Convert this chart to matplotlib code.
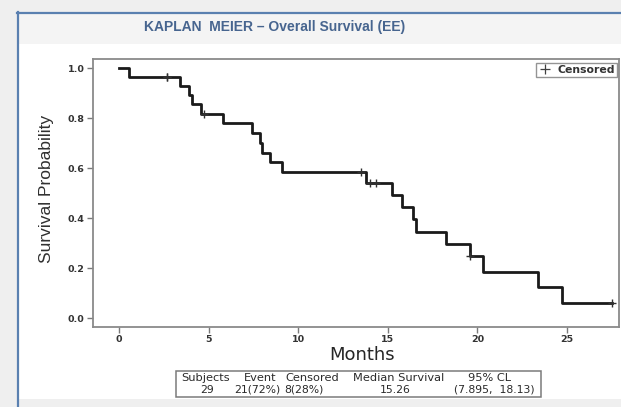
import matplotlib
matplotlib.use("Agg")
import matplotlib.pyplot as plt
from matplotlib.patches import Rectangle
from matplotlib.lines import Line2D

# Kaplan-Meier step curve (months, survival probability)
event_months = [0.0, 0.56, 3.4, 3.9, 4.1, 4.6, 5.8, 7.42, 7.87, 8.0, 8.42, 9.1,
                13.8, 15.26, 15.8, 16.4, 16.6, 18.25, 19.6, 20.3, 23.4, 24.7]
survival = [1.0, 0.9655, 0.9284, 0.8912, 0.8541, 0.8170, 0.7781, 0.7392, 0.7003,
            0.6614, 0.6225, 0.5836, 0.5419, 0.4926, 0.4434, 0.3941, 0.3448,
            0.2956, 0.2463, 0.1847, 0.1232, 0.0616]
last_followup = 27.5

# censored observations (months)
censor_months = [2.7, 2.7, 4.75, 13.5, 14.0, 14.35, 19.6, 27.5]

x_ticks = [0, 5, 10, 15, 20, 25]
y_ticks = [0.0, 0.2, 0.4, 0.6, 0.8, 1.0]

summary_headers = ["Subjects", "Event", "Censored", "Median Survival", "95% CL"]
summary_values = ["29", "21(72%)", "8(28%)", "15.26", "(7.895,  18.13)"]

title_text = "KAPLAN  MEIER \u2013 Overall Survival (EE)"

W, H = 621, 407
DPI = 100
plt.rcParams["font.family"] = ["Liberation Sans", "DejaVu Sans"]
WIDE = ["DejaVu Sans"]

fig = plt.figure(figsize=(W / DPI, H / DPI), dpi=DPI, facecolor="#efefef")


def fx(px):
    return px / W


def fy(py):
    return 1 - py / H


def prect(x0, y0, x1, y1, z=-5, **kw):
    fig.patches.append(Rectangle((fx(x0), fy(y1)), fx(x1) - fx(x0), fy(y0) - fy(y1),
                                 transform=fig.transFigure, figure=fig, zorder=z, **kw))


# panel: white body, pale title band, blue frame on left/top
prect(17, 12, 625, 399, facecolor="white", edgecolor="none")
prect(17, 12, 625, 44, facecolor="#f4f4f4", edgecolor="none")
fig.add_artist(Line2D([fx(17.5), fx(17.5)], [fy(12), fy(407)], color="#5a80b0", lw=1.6,
                      transform=fig.transFigure))
fig.add_artist(Line2D([fx(17), fx(625)], [fy(12.5), fy(12.5)], color="#5a80b0", lw=1.6,
                      transform=fig.transFigure))

fig.text(fx(275), fy(27), title_text, color="#47658f", fontsize=10, fontweight="bold",
         ha="center", va="center")

ax_l, ax_r, ax_t, ax_b = 93, 619, 59, 327
ax = fig.add_axes([fx(ax_l), fy(ax_b), fx(ax_r) - fx(ax_l), fy(ax_t) - fy(ax_b)])
ax.set_zorder(1)
ax.set_facecolor("white")

ax.step(event_months + [last_followup], survival + [survival[-1]], where="post",
        color="#1a1a1a", lw=2.0, zorder=3)


def surv_at(t):
    s = survival[0]
    for tm, v in zip(event_months, survival):
        if tm <= t:
            s = v
    return s


ax.plot(censor_months, [surv_at(t) for t in censor_months], linestyle="none",
        marker="+", markersize=6, markeredgewidth=1.0, color="#303030", zorder=4)

ax.set_xlim(-1.45, 27.9)
ax.set_ylim(-0.036, 1.036)
ax.set_xticks(x_ticks)
ax.set_yticks(y_ticks)
ax.set_xticklabels([str(v) for v in x_ticks])
ax.set_yticklabels([f"{v:.1f}" for v in y_ticks])
for s in ax.spines.values():
    s.set_color("#8a8a8a")
    s.set_linewidth(1.3)
ax.tick_params(direction="out", length=4, width=1.0, color="#7a7a7a",
               labelsize=6.8, labelcolor="#333333", pad=2)
for lab in ax.get_xticklabels() + ax.get_yticklabels():
    lab.set_fontweight("bold")
    lab.set_family(WIDE)

leg = ax.legend(handles=[Line2D([], [], linestyle="none", marker="+", markersize=7,
                                markeredgewidth=0.9, color="#404040", label="Censored")],
                loc="upper right", bbox_to_anchor=(0.996, 0.985),
                prop={"family": WIDE, "size": 7.8, "weight": "bold"},
                frameon=True, fancybox=False, edgecolor="#7a7a7a", borderpad=0.2,
                handlelength=1.3, handletextpad=0.5, borderaxespad=0.0)
leg.get_frame().set_linewidth(1.0)
for t in leg.get_texts():
    t.set_color("#333333")

fig.text(fx(362), fy(355), "Months", fontsize=13, color="#262626", ha="center",
         va="center", family=WIDE)
fig.text(fx(47), fy(189), "Survival Probability", fontsize=12.5, color="#303030",
         rotation=90, ha="center", va="center")

# summary box under the plot
prect(176, 371, 541, 397, z=2, facecolor="white", edgecolor="#7a7a7a", lw=1.1)
header_x = [206, 260, 312, 399, 489]
value_x = [207, 257, 304, 395, 494]
for txt, px in zip(summary_headers, header_x):
    fig.text(fx(px), fy(378), txt, fontsize=8.2, color="#2a2a2a", ha="center",
             va="center", family=WIDE, zorder=3)
for txt, px in zip(summary_values, value_x):
    fig.text(fx(px), fy(390), txt, fontsize=7.8, color="#2a2a2a", ha="center",
             va="center", family=WIDE, zorder=3)

fig.savefig("out.png", dpi=DPI, facecolor=fig.get_facecolor())
